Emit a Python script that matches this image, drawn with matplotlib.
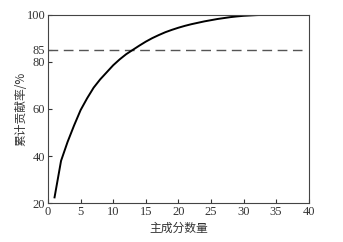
import numpy as np
import matplotlib.pyplot as plt

plt.rcParams['font.family'] = ['Liberation Serif', 'Noto Sans CJK SC']

# cumulative contribution rate (%) vs number of principal components
n_comp = np.arange(1, 40)
cum_rate = [22.5, 38.0, 46.0, 53.0, 59.5, 64.5, 69.0, 72.5, 75.5, 78.5,
            81.0, 83.2, 85.0, 86.8, 88.5, 90.0, 91.3, 92.5, 93.5, 94.4,
            95.2, 95.9, 96.5, 97.1, 97.6, 98.1, 98.5, 98.9, 99.2, 99.45,
            99.6, 99.75, 99.85, 99.9, 99.94, 99.97, 99.98, 99.99, 100.0]
threshold = 85
yticks = [20, 40, 60, 80, 85, 100]
xticks = [0, 5, 10, 15, 20, 25, 30, 35, 40]

fig = plt.figure(figsize=(3.43, 2.42), dpi=100)
ax = fig.add_axes([0.14, 0.16, 0.76, 0.78])

ax.plot([0, n_comp[-1]], [threshold, threshold], color='#555555', lw=1.0,
        dashes=(7, 4))
ax.plot(n_comp, cum_rate, color='black', lw=1.4)

ax.set_xlim(0, 40); ax.set_ylim(20, 100)
ax.set_xticks(xticks); ax.set_yticks(yticks)
ax.tick_params(direction='in', length=3, labelsize=9, pad=2, colors='#333333')
for s in ax.spines.values():
    s.set_color('#444444'); s.set_linewidth(0.8)

ax.set_xlabel('主成分数量', fontsize=8.5, family=['Noto Sans CJK SC'], labelpad=3,
              color='#333333')
ax.set_ylabel('累计贡献率/%', fontsize=8.5, family=['Noto Sans CJK SC', 'Liberation Serif'],
              color='#333333')
ax.yaxis.set_label_coords(-0.08, 0.5)

plt.savefig('out.png', dpi=100)
